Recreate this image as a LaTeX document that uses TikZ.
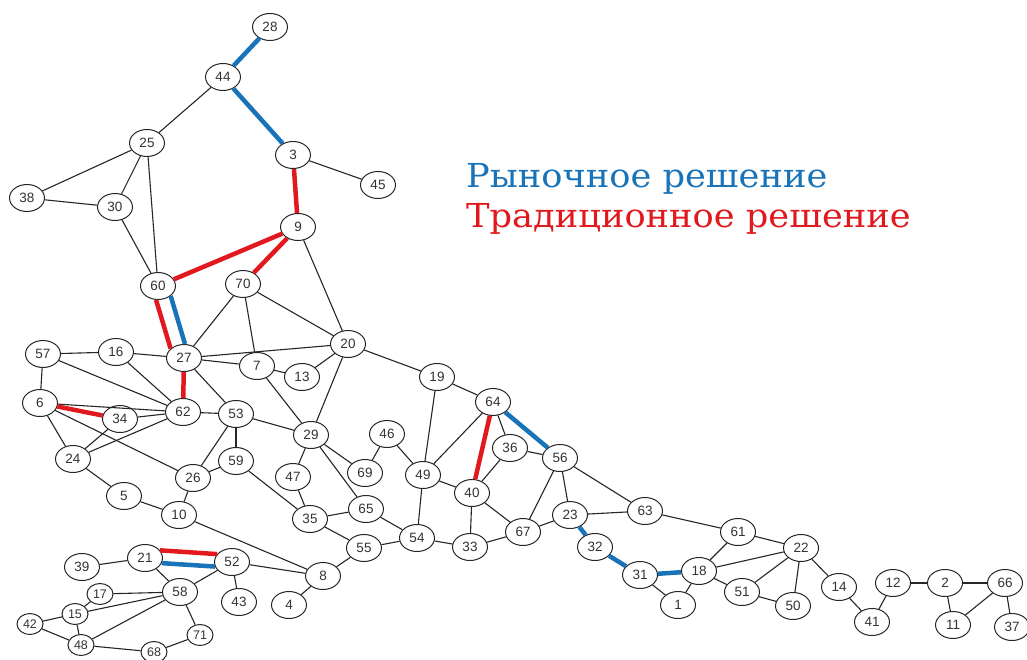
\documentclass[tikz,border=0pt]{standalone}
\usepackage{fontspec}
\setmainfont{Liberation Sans}
\newfontfamily\legendfont{DejaVu Serif}
\usetikzlibrary{shapes.geometric}
\definecolor{mblue}{RGB}{25,115,185}
\definecolor{mred}{RGB}{225,25,30}
\begin{document}
\begin{tikzpicture}[x=1pt,y=-1pt,
 vtx/.style={ellipse,draw=black!85,line width=1pt,fill=white,text=black!80,minimum width=35pt,minimum height=27pt,inner sep=0pt,font=\fontsize{13.5}{13.5}\selectfont},
 svtx/.style={vtx,minimum width=26pt,minimum height=21pt,font=\fontsize{12.5}{12.5}\selectfont},
 ed/.style={line width=1.1pt,draw=black!85},
 redge/.style={line width=4.5pt,draw=mred},
 bedge/.style={line width=4.5pt,draw=mblue},
 legend/.style={anchor=base west,inner sep=0pt,xscale=1.067,font=\legendfont\fontsize{33}{33}\selectfont}]
\useasboundingbox (0,0) rectangle (1027,660);
% nodes
\node[vtx] (n28) at (270,27) {28};
\node[vtx] (n44) at (223,77) {44};
\node[vtx] (n25) at (147,143) {25};
\node[vtx] (n3) at (293,155) {3};
\node[vtx] (n45) at (378,185) {45};
\node[vtx] (n38) at (27,198) {38};
\node[vtx] (n30) at (115,207) {30};
\node[vtx] (n9) at (298,227) {9};
\node[vtx] (n60) at (158,286) {60};
\node[vtx] (n70) at (243,284) {70};
\node[vtx] (n57) at (43,354) {57};
\node[vtx] (n16) at (116,352) {16};
\node[vtx] (n27) at (184,358) {27};
\node[vtx] (n20) at (348,344) {20};
\node[vtx] (n7) at (257,366) {7};
\node[vtx] (n13) at (302,377) {13};
\node[vtx] (n6) at (40,403) {6};
\node[vtx] (n34) at (120,419) {34};
\node[vtx] (n62) at (183,412) {62};
\node[vtx] (n53) at (236,414) {53};
\node[vtx] (n29) at (311,435) {29};
\node[vtx] (n46) at (387,434) {46};
\node[vtx] (n24) at (73,459) {24};
\node[vtx] (n59) at (236,461) {59};
\node[vtx] (n26) at (193,478) {26};
\node[vtx] (n47) at (293,477) {47};
\node[vtx] (n69) at (365,473) {69};
\node[vtx] (n5) at (124,496) {5};
\node[vtx] (n10) at (179,515) {10};
\node[vtx] (n65) at (366,509) {65};
\node[vtx] (n35) at (310,519) {35};
\node[vtx] (n55) at (364,548) {55};
\node[vtx] (n21) at (145,558) {21};
\node[vtx] (n52) at (232,562) {52};
\node[vtx] (n39) at (82,567) {39};
\node[vtx] (n8) at (323,576) {8};
\node[vtx] (n58) at (180,592) {58};
\node[svtx] (n17) at (100,594) {17};
\node[vtx] (n43) at (239,602) {43};
\node[vtx] (n4) at (289,605) {4};
\node[svtx] (n15) at (75,614) {15};
\node[svtx] (n42) at (30,624) {42};
\node[svtx] (n71) at (200,635) {71};
\node[svtx] (n48) at (81,645) {48};
\node[svtx] (n68) at (154,652) {68};
\node[vtx] (n19) at (437,377) {19};
\node[vtx] (n64) at (493,402) {64};
\node[vtx] (n36) at (510,448) {36};
\node[vtx] (n56) at (560,458) {56};
\node[vtx] (n49) at (423,475) {49};
\node[vtx] (n40) at (472,493) {40};
\node[vtx] (n23) at (570,515) {23};
\node[vtx] (n63) at (645,511) {63};
\node[vtx] (n67) at (523,532) {67};
\node[vtx] (n54) at (417,538) {54};
\node[vtx] (n33) at (470,547) {33};
\node[vtx] (n32) at (595,547) {32};
\node[vtx] (n31) at (640,575) {31};
\node[vtx] (n1) at (678,605) {1};
\node[vtx] (n61) at (738,532) {61};
\node[vtx] (n22) at (801,548) {22};
\node[vtx] (n18) at (699,571) {18};
\node[vtx] (n51) at (742,592) {51};
\node[vtx] (n50) at (793,606) {50};
\node[vtx] (n14) at (839,587) {14};
\node[vtx] (n12) at (893,583) {12};
\node[vtx] (n2) at (945,583) {2};
\node[vtx] (n66) at (1005,583) {66};
\node[vtx] (n41) at (872,622) {41};
\node[vtx] (n11) at (953,625) {11};
\node[vtx] (n37) at (1012,627) {37};
% legend
\node[legend,text=mblue] (leg1) at (466,188) {Рыночное решение};
\node[legend,text=mred] (leg2) at (466,228) {Традиционное решение};
% black edges
\foreach \a/\b in {44/25,25/38,25/30,25/60,38/30,30/60,3/45,9/20,70/27,70/7,70/20,27/20,27/7,27/16,27/53,7/13,13/20,7/29,20/29,
 57/16,57/6,57/62,16/62,6/62,6/24,6/26,34/62,34/24,24/62,24/5,5/10,62/53,53/26,53/59,59/26,26/10,10/8,53/29,59/35,
 29/47,29/69,29/65,47/35,35/65,35/55,65/54,46/69,46/49,55/54,55/8,8/52,8/4,21/39,21/58,52/58,52/43,58/17,58/15,58/48,58/71,
 17/15,15/42,15/48,42/48,48/68,68/71,20/19,19/64,19/49,64/49,64/36,36/56,36/40,49/40,49/54,40/33,40/67,54/33,33/67,67/56,
 67/23,56/23,56/63,23/63,31/1,1/18,63/61,61/18,61/22,18/22,18/51,22/51,22/50,51/50,22/14,14/41,41/12,12/2,2/11,2/66,66/11,66/37}
 \draw[ed] (n\a) -- (n\b);
% red edges
\foreach \a/\b in {3/9,9/60,9/70,27/62,6/34,64/40}
 \draw[redge] (n\a) -- (n\b);
\draw[redge] (n60.262) -- (n27.145);
\draw[redge] (n21.27) -- (n52.152);
% blue edges
\foreach \a/\b in {28/44,44/3,64/56,23/32,32/31,31/18}
 \draw[bedge] (n\a) -- (n\b);
\draw[bedge] (n60.322) -- (n27.86);
\draw[bedge] (n21.343) -- (n52.195);
\end{tikzpicture}
\end{document}
